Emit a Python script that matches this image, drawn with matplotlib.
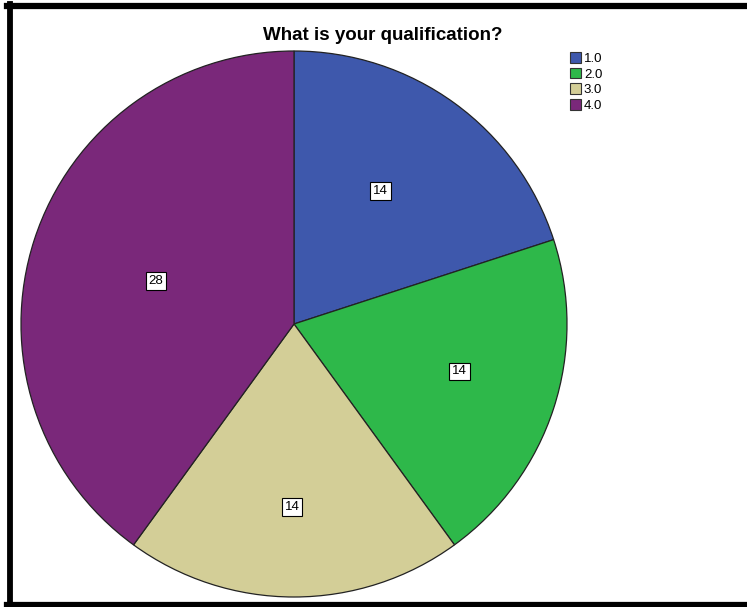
import matplotlib.pyplot as plt
from matplotlib.patches import Patch
import numpy as np

categories = ['1.0', '2.0', '3.0', '4.0']
counts = [14, 14, 14, 28]
colors = ['#3e58ac', '#2eb84a', '#d3ce97', '#7a287a']
# label placement inside each slice: radius fraction and angle shift (deg)
label_radius = [0.58, 0.63, 0.67, 0.53]
label_shift = [3.0, 2.0, -0.6, 0.6]

plt.rcParams['font.family'] = ['Liberation Sans', 'DejaVu Sans']

W, H = 747, 607
fig = plt.figure(figsize=(W / 100, H / 100), dpi=100)

# pie area: centre (294, 324) px, radius 273 px
cx, cy, r = 294, 324, 273
ax = fig.add_axes([(cx - r) / W, (H - cy - r) / H, 2 * r / W, 2 * r / H])
wedges, _ = ax.pie(counts, colors=colors, startangle=90, counterclock=False,
                   radius=1.0, wedgeprops=dict(edgecolor='#222222', linewidth=0.9))
ax.set_xlim(-1, 1)
ax.set_ylim(-1, 1)
ax.set_aspect('equal')
ax.axis('off')

for w, n, rr, sh in zip(wedges, counts, label_radius, label_shift):
    mid = np.deg2rad((w.theta1 + w.theta2) / 2 + sh)
    ax.text(rr * np.cos(mid), rr * np.sin(mid), str(n), ha='center', va='center',
            fontsize=9.5,
            bbox=dict(boxstyle='square,pad=0.22', fc='white', ec='black', lw=0.8))

fig.text(383 / W, 1 - 35 / H, 'What is your qualification?', ha='center', va='center',
         fontsize=13.5, fontweight='bold')

handles = [Patch(facecolor=c, edgecolor='#333333', linewidth=0.8) for c in colors]
fig.legend(handles, categories, loc='upper left', bbox_to_anchor=(570 / W, 1 - 52 / H),
           frameon=False, fontsize=9.5, handlelength=0.85, handleheight=0.85,
           labelspacing=0.22, handletextpad=0.2, borderpad=0, borderaxespad=0)

# black frame on left, top and bottom
fig.add_artist(plt.Line2D([9.5 / W, 9.5 / W], [1 - 4 / H, 1 - 605 / H], color='black', lw=4.2))
fig.add_artist(plt.Line2D([7 / W, 1], [1 - 6 / H, 1 - 6 / H], color='black', lw=4.5))
fig.add_artist(plt.Line2D([7 / W, 1], [1 - 605 / H, 1 - 605 / H], color='black', lw=4.5))

fig.savefig('out.png', dpi=100)
